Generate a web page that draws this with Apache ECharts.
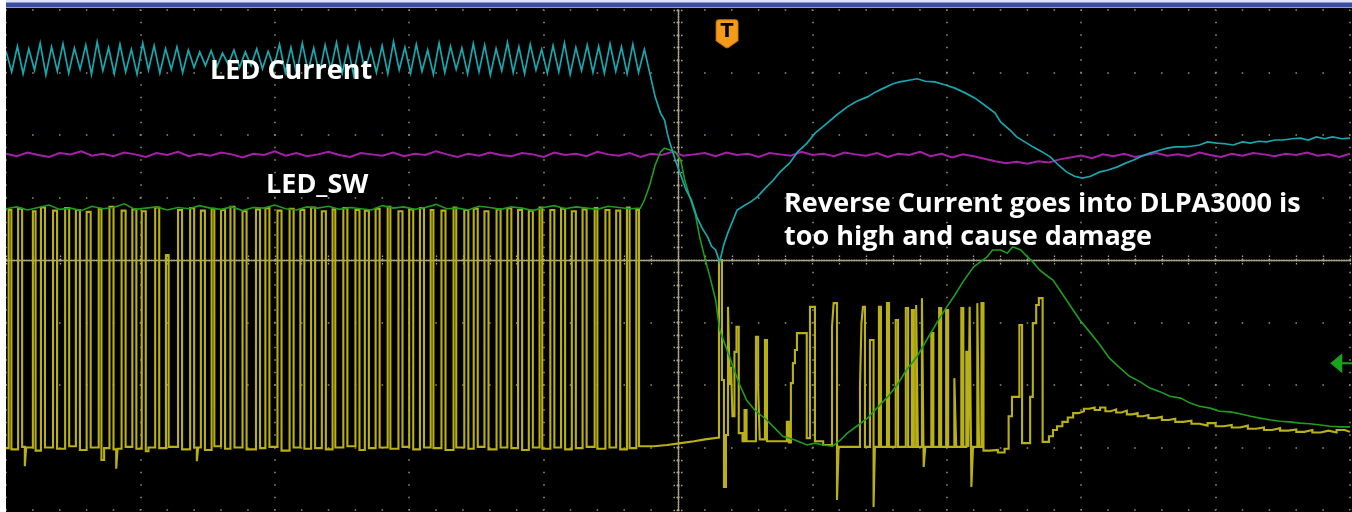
<!DOCTYPE html>
<html>
<head>
<meta charset="utf-8">
<script src="https://cdn.jsdelivr.net/npm/echarts@6/dist/echarts.min.js"></script>
<style>
  html, body { margin: 0; padding: 0; background: #000; }
  #scope { width: 1352px; height: 512px; }
</style>
</head>
<body>
<div id="scope"></div>
<script>
// Screen: 10 horizontal divisions of 100 units (trigger at 0), 8 vertical divisions of 100 units.
const X_MIN = -500, X_MAX = 500, X_DIV = 100;
const Y_MIN = -400, Y_MAX = 400, Y_DIV = 100;

// LED current (cyan): switching ripple before the fault, one sample per half ripple period.
const RIPPLE_T0 = -500, RIPPLE_DT = 4.24;
const ledCurrentRipple = [
  334,301, 342,298, 338,304, 347,296, 341,302, 346,299, 339,305, 344,297,
  349,303, 340,298, 345,301, 337,297, 347,304, 343,299, 338,305, 341,300,
  336,308, 333,311, 335,309, 331,313, 336,308, 333,311, 338,306, 334,309,
  345,300, 340,298, 347,302, 339,297, 344,305, 348,299, 341,296, 346,303,
  337,300, 343,298, 349,304, 340,299, 345,302, 336,297, 347,300, 342,305,
  339,298, 346,301, 344,296, 338,303, 348,300, 341,298, 345,304, 337,299,
  343,301, 347,297, 340,303, 344,300, 342,299, 346,302, 341,298, 345,300
];
// LED current after the fault: collapse, reverse swing and recovery.
const ledCurrentTail = [
  [-25,337],[-21,299],[-17,261],[-13,235],[-10,224],[-8,203],[-6,187],[-2,160],[2,136],[6,112],
  [10,96],[14,69],[18,51],[22,37],[25,22],[28,16],[30,3],[31,-3],[34,24],[37,43],[40,59],[44,80],
  [50,88],[54,93],[59,101],[65,115],[71,128],[76,141],[83,155],[89,173],[96,187],[102,203],
  [111,219],[118,232],[126,245],[133,254],[141,261],[147,269],[153,275],[160,282],[165,285],
  [173,288],[178,290],[184,286],[191,285],[199,280],[206,275],[214,267],[221,259],[228,248],
  [236,235],[240,221],[247,208],[252,197],[258,189],[264,181],[271,173],[277,165],[283,152],
  [289,141],[295,134],[301,131],[307,134],[314,141],[320,144],[327,149],[333,155],[339,160],
  [345,166],[351,171],[359,176],[364,179],[370,181],[376,181],[382,182],[388,184],[394,189],
  [401,187],[407,186],[413,184],[420,189],[426,187],[432,190],[438,189],[444,192],[450,192],
  [457,194],[463,195],[469,192],[475,197],[481,194],[487,197],[494,194],[500,195]
];

// Supply rail (magenta), uniformly sampled across the screen.
const RAIL_T0 = -500, RAIL_DT = 8;
const railSamples = [
  170,166,172,168,165,171,169,174,167,170, 166,172,169,165,171,168,173,166,170,167,
  172,169,164,170,168,174,167,171,166,169, 173,168,165,171,169,167,172,166,170,168,
  174,169,165,170,167,172,168,166,171,169, 165,172,168,170,166,173,169,167,171,165,
  170,168,173,167,169,171,166,172,168,170, 165,171,169,167,173,168,170,166,172,169,
  167,171,165,170,168,173,166,170,164,169, 166,162,158,155,157,154,158,156,161,164,
  167,163,169,166,170,165,168,171,167,169, 166,172,168,165,170,167,171,169,166,170,
  168,172,167,169,165,170
];

// LED_SW node (green): steady level while switching, then the fault transient.
const SW_T0 = -500, SW_DT = 8;
const ledSwIdle = [
  82,85,80,84,88,81,83,79,86,82,84,90,81,83,85,80,84,82,87,83,
  81,85,79,84,83,88,82,80,85,83,86,81,84,82,80,87,83,85,81,84,
  89,82,83,80,86,84,81,85,83,79,84,87,82,85,83,81,86,84,82
];
const ledSwTail = [
  [-28,83],[-25,96],[-21,120],[-17,152],[-13,173],[-10,179],[-6,176],[-2,173],[2,160],[5,128],
  [9,99],[13,72],[16,38],[20,3],[24,-29],[28,-64],[31,-112],[37,-147],[41,-171],[46,-200],
  [51,-224],[57,-240],[66,-256],[72,-269],[78,-282],[87,-288],[96,-296],[102,-293],[108,-296],
  [115,-298],[121,-288],[126,-277],[133,-266],[141,-253],[148,-237],[156,-219],[163,-200],
  [170,-176],[178,-154],[185,-128],[193,-99],[200,-75],[206,-56],[212,-35],[220,-11],[225,-3],
  [230,5],[234,16],[240,16],[245,11],[249,21],[255,16],[260,5],[264,-3],[269,-16],[275,-26],
  [279,-32],[284,-48],[289,-64],[294,-80],[299,-96],[307,-117],[314,-136],[321,-157],[329,-173],
  [336,-186],[344,-195],[351,-205],[359,-211],[366,-218],[374,-221],[381,-229],[388,-234],
  [396,-237],[403,-242],[411,-243],[418,-246],[426,-250],[433,-253],[441,-256],[448,-258],
  [455,-259],[463,-261],[470,-262],[478,-264],[485,-266],[493,-267],[500,-267]
];

// Gate drive (yellow): [time, level] steps; each level holds until the next time.
const gateSteps = [
  [-500,-301],
  [-498,80],[-496,-303],[-491,82],[-488,-299],[-486,-330],[-485,-300],[-480,78],[-478,-305],
  [-474,84],[-471,-300],[-465,79],[-462,-302],[-456,83],[-453,-298],[-448,80],[-445,-304],
  [-440,77],[-437,-300],[-431,82],[-429,-320],[-427,-301],[-423,85],[-420,-303],[-418,-334],
  [-417,-302],[-414,79],[-411,-299],[-406,81],[-403,-302],[-399,78],[-396,-306],[-394,-300],
  [-389,84],[-386,-301],[-381,8],[-379,-299],[-372,80],[-369,-303],[-363,83],[-360,-300],
  [-358,-322],[-357,-300],[-355,79],[-352,-304],[-347,82],[-345,-298],[-340,80],[-337,-302],
  [-333,85],[-330,-300],[-324,78],[-321,-303],[-314,81],[-311,-301],[-307,83],[-304,-299],
  [-298,79],[-295,-305],[-289,82],[-286,-300],[-281,80],[-278,-302],[-273,84],[-270,-301],
  [-265,78],[-262,-303],[-257,81],[-255,-300],[-249,83],[-246,-298],[-240,80],[-237,-304],
  [-233,79],[-230,-301],[-225,82],[-222,-300],[-216,85],[-214,-302],[-208,78],[-205,-299],
  [-200,81],[-197,-303],[-192,83],[-189,-300],[-184,80],[-182,-301],[-176,79],[-173,-304],
  [-167,84],[-165,-300],[-159,80],[-156,-302],[-152,82],[-149,-299],[-144,78],[-141,-303],
  [-135,81],[-132,-300],[-127,83],[-124,-301],[-119,80],[-116,-304],[-111,79],[-108,-300],
  [-103,84],[-101,-302],[-95,80],[-92,-300],[-87,82],[-84,-303],[-79,78],[-76,-301],
  [-71,81],[-68,-299],[-62,83],[-60,-302],[-54,80],[-51,-300],[-46,79],[-43,-303],
  [-38,84],[-36,-301],[-31,80],[-29,-298],
  [-18,-296],[-8,-293],[2,-290],[12,-287],[20,-284],
  [30.5,0],[32.7,-192],[34.2,-363],[35.7,-280],[37.2,-75],[38.5,-200],[39.5,-171],[40.5,-250],
  [42,-147],[43.5,-107],[45.2,-277],[48,-290],[49.5,-240],[51,-290],[58,-123],[59.6,-203],
  [60.8,-287],[64.7,-128],[66.2,-290],[81,-259],[82.5,-292],[84,-197],[85.5,-165],[87,-144],
  [88.5,-117],[95.8,-285],[98.2,-75],[101.9,-290],[108,-296],[114.6,-107],[115.8,-69],
  [118.3,-384],[119.5,-299],[135.4,-203],[136.5,-101],[137.6,-75],[139.1,-299],[142.8,-128],
  [145.5,-395],[146.5,-299],[149.5,-75],[151,-299],[155.5,-69],[157,-299],[162,-96],[163.7,-299],
  [169.5,-77],[171.2,-299],[174,-80],[175.5,-299],[177.2,-72],[178.5,-299],[181.5,-61],
  [182.8,-331],[184,-299],[188.5,-117],[190,-299],[194.3,-77],[195.8,-299],[199.5,-80],
  [201,-299],[205.6,-189],[207,-299],[210.8,-77],[212.3,-299],[214.5,-147],[216,-299],
  [217,-75],[218.3,-363],[219.5,-299],[222.7,-69],[224,-299],[225.8,-69],[227.3,-305],
  [232,-304],[238,-308],[243,-302],[246,-250],[248.5,-219],[254,-104],[256,-293],[262,-219],
  [264,-101],[266.5,-72],[268.5,-61],[271.3,-291],
  [276,-282],[279,-272],[282,-266],[286,-259],[290,-252],[294,-245],[298,-242],[302,-238],
  [306,-236],[310,-240],[314,-236],[318,-242],[322,-239],[326,-244],[330,-241],[334,-247],
  [338,-245],[342,-250],[346,-248],[350,-253],[355,-251],[360,-256],[365,-254],[370,-259],
  [376,-257],[382,-262],[388,-265],[394,-261],[400,-266],[406,-264],[412,-268],[418,-265],
  [424,-270],[430,-268],[436,-272],[442,-269],[448,-273],[454,-271],[460,-275],[466,-272],
  [472,-276],[478,-273],[484,-276],[490,-272],[496,-275],[500,-275]
];

// Annotation texts.
const channelLabels = ['LED Current', 'LED_SW'];
const noteLines = ['Reverse Current goes into DLPA3000 is', 'too high and cause damage'];

// Build [t, v] pairs for uniformly sampled records.
const sampled = (t0, dt, values) => values.map((v, i) => [t0 + i * dt, v]);

const ledCurrent = sampled(RIPPLE_T0, RIPPLE_DT, ledCurrentRipple).concat(ledCurrentTail);
const rail = sampled(RAIL_T0, RAIL_DT, railSamples);
const ledSw = sampled(SW_T0, SW_DT, ledSwIdle).concat(ledSwTail);

const DOT = '#948c6c';
const AXIS_DOT = '#aaa38a';
const hidden = { show: false };

function axisCfg(min, max, interval, extra) {
  return Object.assign({
    type: 'value', min, max, interval,
    axisLabel: hidden, splitLine: hidden,
    axisLine: { show: true, onZero: true, lineStyle: { color: AXIS_DOT, width: 1.4, type: [1.3, 1.2] } },
    axisTick: { show: true, length: 6, lineStyle: { color: AXIS_DOT, width: 1.3, type: [1.5, 1.5] } },
    minorTick: { show: true, splitNumber: 5, length: 5, lineStyle: { color: AXIS_DOT, width: 1.3, type: [1.5, 1.5] } }
  }, extra);
}

function trace(name, data, color, width, z, extra) {
  return Object.assign({
    name, type: 'line', data, z,
    xAxisIndex: 0, yAxisIndex: 0,
    showSymbol: false, symbol: 'none', silent: true, clip: true,
    lineStyle: { color, width, join: 'miter' },
    emphasis: { disabled: true }
  }, extra || {});
}

const LABEL_FONT = 'bold 27px "Open Sans", "Noto Sans", sans-serif';

const chart = echarts.init(document.getElementById('scope'), null, { renderer: 'canvas' });
chart.setOption({
  animation: false,
  backgroundColor: '#000000',
  grid: { left: 6, right: 2, top: 10, bottom: 2, containLabel: false },
  xAxis: [
    axisCfg(X_MIN, X_MAX, X_DIV, {
      position: 'bottom',
      splitLine: { show: true, lineStyle: { color: DOT, width: 1.6, type: [1.6, 10.9], dashOffset: 0.8 } }
    }),
    axisCfg(X_MIN, X_MAX, X_DIV, { position: 'top' })
  ],
  yAxis: [
    axisCfg(Y_MIN, Y_MAX, Y_DIV, {
      position: 'left',
      splitLine: { show: true, lineStyle: { color: DOT, width: 1.6, type: [1.6, 25.28], dashOffset: 0.8 } }
    }),
    axisCfg(Y_MIN, Y_MAX, Y_DIV, { position: 'right' })
  ],
  series: [
    trace('Gate', gateSteps, '#b8b014', 2.1, 2, { step: 'end' }),
    trace('Rail', rail, '#a51fa8', 2, 3, {
      markPoint: {
        silent: true, animation: false,
        data: [{
          coord: [36.5, 362],
          symbol: 'path://M3,0 L19,0 Q22,0 22,3 L22,21 L12,28 L10,28 L0,21 L0,3 Q0,0 3,0 Z',
          symbolSize: [22, 28],
          itemStyle: { color: '#f29b1c', borderColor: '#c77100', borderWidth: 1 },
          label: { show: true, position: 'inside', formatter: 'T', color: '#000', fontSize: 19,
                   fontWeight: 'bold', fontFamily: 'DejaVu Sans', offset: [0, -2] }
        }]
      }
    }),
    trace('LED_SW', ledSw, '#1f9c1f', 1.6, 4, {
      markPoint: {
        silent: true, animation: false,
        data: [{
          coord: [493.5, -165],
          symbol: 'path://M0,10 L12,0 L12,9 L22,9 L22,11 L12,11 L12,20 Z',
          symbolSize: [22, 20],
          itemStyle: { color: '#19a319' },
          label: { show: false }
        }]
      }
    }),
    trace('LED Current', ledCurrent, '#17a7ae', 1.7, 5)
  ],
  graphic: [
    { type: 'rect', z: 50, shape: { x: 0, y: 0, width: 1352, height: 8 }, style: { fill: '#3a4da2' }, silent: true },
    { type: 'rect', z: 51, shape: { x: 0, y: 0, width: 1352, height: 2.5 }, style: { fill: '#dde4f5' }, silent: true },
    { type: 'rect', z: 51, shape: { x: 0, y: 7, width: 1352, height: 1 }, style: { fill: '#8d9edb' }, silent: true },
    { type: 'rect', z: 52, shape: { x: 0, y: 0, width: 6, height: 512 }, style: { fill: '#ffffff' }, silent: true },
    { type: 'text', z: 60, x: 210, y: 71, silent: true,
      style: { text: channelLabels[0], fill: '#ffffff', font: LABEL_FONT, verticalAlign: 'middle' } },
    { type: 'text', z: 60, x: 266, y: 185, silent: true,
      style: { text: channelLabels[1], fill: '#ffffff', font: LABEL_FONT, verticalAlign: 'middle' } },
    { type: 'text', z: 60, x: 784, y: 204, silent: true,
      style: { text: noteLines[0], fill: '#ffffff', font: LABEL_FONT, verticalAlign: 'middle' } },
    { type: 'text', z: 60, x: 784, y: 237, silent: true,
      style: { text: noteLines[1], fill: '#ffffff', font: LABEL_FONT, verticalAlign: 'middle' } }
  ]
});
</script>
</body>
</html>
